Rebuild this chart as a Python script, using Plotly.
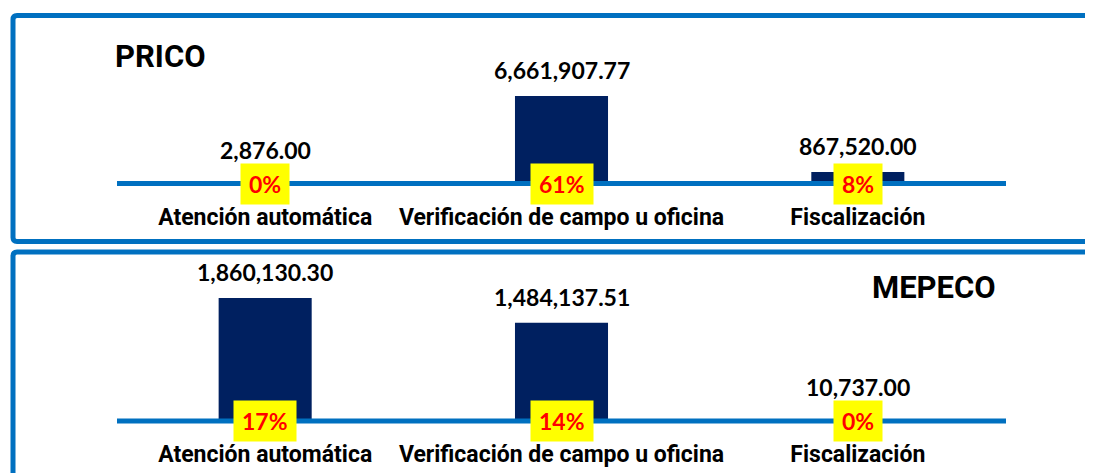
import plotly.graph_objects as go

# ---- data ----
categories = ["Atención automática", "Verificación de campo u oficina", "Fiscalización"]
prico_values = [2876.00, 6661907.77, 867520.00]
prico_pct = ["0%", "61%", "8%"]
mepeco_values = [1860130.30, 1484137.51, 10737.00]
mepeco_pct = ["17%", "14%", "0%"]
titles = ["PRICO", "MEPECO"]

W, H = 1093, 473
OFF = 8  # page body margin around the figure
NAVY = "#002060"
BLUE = "#0070C0"
LINE_W = 5
NUM_FONT = "Lato, Carlito, Calibri, Noto Sans, sans-serif"
CAT_FONT = "Liberation Sans Narrow, Arial Narrow, Roboto, sans-serif"


def px(pix):
    return (pix - OFF) / W


def py(pix):
    return 1 - (pix - OFF) / H


fig = go.Figure()

# panel geometry (page pixels): baseline centre y, plot top y, pixel height of tallest bar above baseline centre
panels = [
    dict(vals=prico_values, pct=prico_pct, base=183.5, top=60, maxpx=87.5, xa="x", ya="y"),
    dict(vals=mepeco_values, pct=mepeco_pct, base=421, top=290, maxpx=123, xa="x2", ya="y2"),
]

x_dom = [px(117), px(1006)]
annotations = []
shapes = []
for i, p in enumerate(panels):
    vals = p["vals"]
    hpx = p["base"] - p["top"]
    rng = max(vals) * hpx / p["maxpx"]
    fig.add_trace(go.Bar(
        x=categories, y=vals, marker=dict(color=NAVY, line=dict(width=0)),
        xaxis=p["xa"], yaxis=p["ya"], hoverinfo="skip", showlegend=False,
    ))
    suffix = "" if i == 0 else "2"
    y_dom = [py(p["base"]), py(p["top"])]
    fig.layout["xaxis" + suffix] = dict(
        domain=x_dom, range=[-0.5, 2.5], type="category",
        showline=False, showgrid=False, zeroline=False,
        ticks="", tickangle=0, automargin=False,
        tickfont=dict(family=CAT_FONT, size=23, color="black", weight="bold"),
        ticklabelstandoff=17, anchor="y" + suffix, fixedrange=True,
    )
    fig.layout["yaxis" + suffix] = dict(
        domain=y_dom, range=[0, rng], automargin=False,
        visible=False, anchor="x" + suffix, fixedrange=True,
    )
    # baseline (category axis line) drawn over the bar bottoms, along the axis domain
    shapes.append(dict(
        type="line", xref="paper", yref="paper", x0=x_dom[0], x1=x_dom[1],
        y0=y_dom[0], y1=y_dom[0],
        line=dict(color=BLUE, width=LINE_W), layer="above",
    ))
    half = LINE_W / 2
    for c, v, t in zip(categories, vals, p["pct"]):
        bar_px = v / rng * hpx
        visible = max(bar_px - half, 0)
        centre_above_line = max(visible + 26, 31)
        shift = centre_above_line + half - bar_px
        annotations.append(dict(
            x=c, y=v, xref=p["xa"], yref=p["ya"], text=f"{v:,.2f}", showarrow=False,
            yanchor="middle", yshift=shift,
            font=dict(family=NUM_FONT, size=23, color="black", weight="bold"),
        ))
        annotations.append(dict(
            x=c, y=0, xref=p["xa"], yref=p["ya"], text=t, showarrow=False,
            yanchor="middle", yshift=0, bgcolor="#FFFF00", borderpad=8, height=24,
            font=dict(family=NUM_FONT, size=23, color="#FF0000", weight="bold"),
        ))

annotations.append(dict(
    x=px(113), y=py(57), xref="paper", yref="paper", text=titles[0], showarrow=False,
    xanchor="left", yanchor="middle",
    font=dict(family=CAT_FONT, size=31, color="black", weight="bold"),
))
annotations.append(dict(
    x=px(998), y=py(287), xref="paper", yref="paper", text=titles[1], showarrow=False,
    xanchor="right", yanchor="middle",
    font=dict(family=CAT_FONT, size=31, color="black", weight="bold"),
))


def rounded_rect(x0, y0, x1, y1, r):
    X0, X1 = px(x0), px(x1)
    Y0, Y1 = py(y0), py(y1)
    rx, ry = r / W, r / H
    return (f"M {X0+rx},{Y0} L {X1-rx},{Y0} Q {X1},{Y0} {X1},{Y0-ry} "
            f"L {X1},{Y1+ry} Q {X1},{Y1} {X1-rx},{Y1} L {X0+rx},{Y1} "
            f"Q {X0},{Y1} {X0},{Y1+ry} L {X0},{Y0-ry} Q {X0},{Y0} {X0+rx},{Y0} Z")


shapes += [
    dict(type="path", xref="paper", yref="paper", path=rounded_rect(13, 15.5, 1102, 241.5, 4),
         line=dict(color=BLUE, width=5), layer="below"),
    dict(type="path", xref="paper", yref="paper", path=rounded_rect(13, 252, 1102, 490, 4),
         line=dict(color=BLUE, width=5), layer="below"),
]

fig.update_layout(
    width=W, height=H, margin=dict(l=0, r=0, t=0, b=0),
    paper_bgcolor="white", plot_bgcolor="white",
    bargap=0.686, annotations=annotations, shapes=shapes,
)

fig.write_html("out.html", config={"displayModeBar": False})
